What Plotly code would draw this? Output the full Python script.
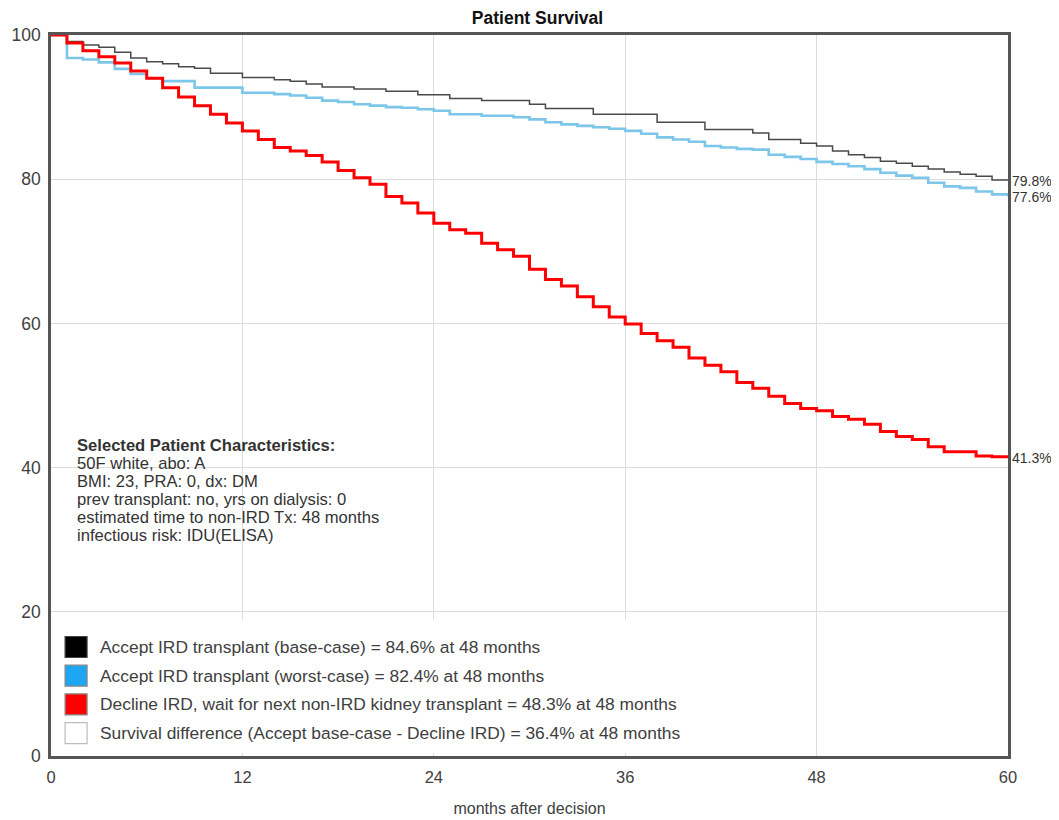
import plotly.graph_objects as go

months = list(range(0, 61))

accept_base = [100, 99.1, 98.6, 98.3, 97.6, 96.8, 96.3, 96.0, 95.6, 95.4,
               94.7, 94.7, 94.1, 94.1, 93.8, 93.6, 93.2, 92.8, 92.8, 92.5,
               92.5, 92.2, 92.2, 91.7, 91.7, 91.2, 91.2, 90.9, 90.9, 90.9,
               90.4, 89.8, 89.8, 89.8, 89.0, 89.0, 89.0, 89.0, 87.9, 87.9,
               87.9, 86.9, 86.9, 86.9, 86.4, 85.5, 85.5, 85.0, 84.6, 83.9,
               83.4, 83.0, 82.5, 82.2, 81.8, 81.4, 81.0, 80.7, 80.4, 79.9,
               79.8]

accept_worst = [100, 96.8, 96.6, 96.2, 95.3, 94.6, 94.0, 93.6, 93.6, 92.7,
                92.7, 92.7, 92.0, 92.0, 91.8, 91.6, 91.3, 90.9, 90.7, 90.4,
                90.2, 90.0, 89.9, 89.7, 89.5, 89.0, 89.0, 88.8, 88.8, 88.6,
                88.3, 87.9, 87.6, 87.4, 87.2, 87.0, 86.7, 86.3, 85.8, 85.5,
                85.2, 84.6, 84.4, 84.2, 84.1, 83.4, 83.1, 82.8, 82.4, 82.1,
                81.8, 81.4, 80.9, 80.5, 80.2, 79.5, 79.0, 78.8, 78.3, 77.9,
                77.6]

decline = [100, 98.9, 97.8, 97.0, 96.1, 95.0, 94.0, 92.7, 91.4, 90.2,
           89.0, 87.8, 86.7, 85.5, 84.4, 83.9, 83.3, 82.4, 81.2, 80.2,
           79.3, 77.6, 76.7, 75.3, 73.9, 73.0, 72.5, 71.1, 70.2, 69.3,
           67.5, 66.1, 65.2, 63.7, 62.3, 60.9, 59.9, 58.6, 57.6, 56.7,
           55.2, 54.2, 53.3, 51.8, 51.0, 49.9, 48.9, 48.2, 47.9, 47.1,
           46.7, 46.0, 45.0, 44.3, 43.9, 42.9, 42.2, 42.2, 41.6, 41.5,
           41.3]

end_labels = ["79.8%", "77.6%", "41.3%"]

legend_labels = [
    "Accept IRD transplant (base-case) = 84.6% at 48 months",
    "Accept IRD transplant (worst-case) = 82.4% at 48 months",
    "Decline IRD, wait for next non-IRD kidney transplant = 48.3% at 48 months",
    "Survival difference (Accept base-case - Decline IRD) = 36.4% at 48 months",
]
legend_colors = ["#000000", "#1ea6f2", "#ff0000", "#ffffff"]
legend_borders = ["#444444", "#888888", "#888888", "#bbbbbb"]

characteristics = [
    "<b>Selected Patient Characteristics:</b>",
    "50F white, abo: A",
    "BMI: 23, PRA: 0, dx: DM",
    "prev transplant: no, yrs on dialysis: 0",
    "estimated time to non-IRD Tx: 48 months",
    "infectious risk: IDU(ELISA)",
]

FONT = "Liberation Sans, Arial, sans-serif"
TXT = "#404040"

fig = go.Figure()

series = [
    (accept_worst, "#7cc6ea", 2.6),
    (accept_base, "#4a4a4a", 1.5),
    (decline, "#ff0000", 3.0),
]
for ys, col, w in series:
    fig.add_trace(go.Scatter(x=months, y=ys, mode="lines", line_shape="hv",
                             line=dict(color=col, width=w), showlegend=False,
                             hoverinfo="skip"))

# end labels
for ys, lab in zip([accept_base, accept_worst, decline], end_labels):
    fig.add_annotation(x=months[-1], y=ys[-1], text=lab, showarrow=False,
                       xanchor="left", yanchor="middle", xshift=2,
                       font=dict(family=FONT, size=14, color="#333333"))

# patient characteristics block (one annotation per line, tight spacing)
char_top = 0.430
char_step = 0.0247
for i, line in enumerate(characteristics):
    fig.add_annotation(xref="paper", yref="paper", x=0.025,
                       y=char_top - i * char_step,
                       text=line, showarrow=False, xanchor="left",
                       yanchor="middle", align="left",
                       font=dict(family=FONT, size=16.6, color="#333333"))

# legend (drawn manually to get square swatches)
shapes = [dict(type="rect", xref="paper", yref="paper", x0=0.004, x1=0.675,
               y0=0.004, y1=0.189, fillcolor="white", line=dict(width=0),
               layer="above")]
leg_top = 0.1512
leg_step = 0.0398
for i, (lab, c, b) in enumerate(zip(legend_labels, legend_colors, legend_borders)):
    yy = leg_top - i * leg_step
    shapes.append(dict(type="rect", xref="paper", yref="paper",
                       xsizemode="pixel", ysizemode="pixel",
                       xanchor=0.0262, yanchor=yy, x0=-11, x1=11,
                       y0=-10.5, y1=10.5, fillcolor=c,
                       line=dict(color=b, width=1.2), layer="above"))
    fig.add_annotation(xref="paper", yref="paper", x=0.0492, y=yy, text=lab,
                       showarrow=False, xanchor="left", yanchor="middle",
                       font=dict(family=FONT, size=17.4, color=TXT))

fig.update_layout(
    width=1059, height=820,
    margin=dict(l=43, r=59, t=27, b=72),
    paper_bgcolor="white", plot_bgcolor="white",
    title=dict(text="<b>Patient Survival</b>", x=0.5, xanchor="center",
               y=0.988, yanchor="middle",
               font=dict(family=FONT, size=17.5, color="#111111")),
    font=dict(family=FONT, color=TXT),
    showlegend=False,
    shapes=shapes,
    xaxis=dict(range=[0, 60], tickvals=[0, 12, 24, 36, 48, 60],
               automargin=False,
               showgrid=True, gridcolor="#dcdcdc", gridwidth=1,
               showline=True, linecolor="#555555", linewidth=2.5, mirror=True,
               zeroline=False, ticks="", ticklabelstandoff=4,
               tickfont=dict(family=FONT, size=16.5, color=TXT),
               title=dict(text="months after decision", standoff=19,
                          font=dict(family=FONT, size=16, color=TXT))),
    yaxis=dict(range=[0, 100], tickvals=[0, 20, 40, 60, 80, 100],
               automargin=False,
               showgrid=True, gridcolor="#dcdcdc", gridwidth=1,
               showline=True, linecolor="#555555", linewidth=2.5, mirror=True,
               zeroline=False, ticks="", ticklabelstandoff=4,
               tickfont=dict(family=FONT, size=17.5, color=TXT)),
)

fig.write_html("out.html")
